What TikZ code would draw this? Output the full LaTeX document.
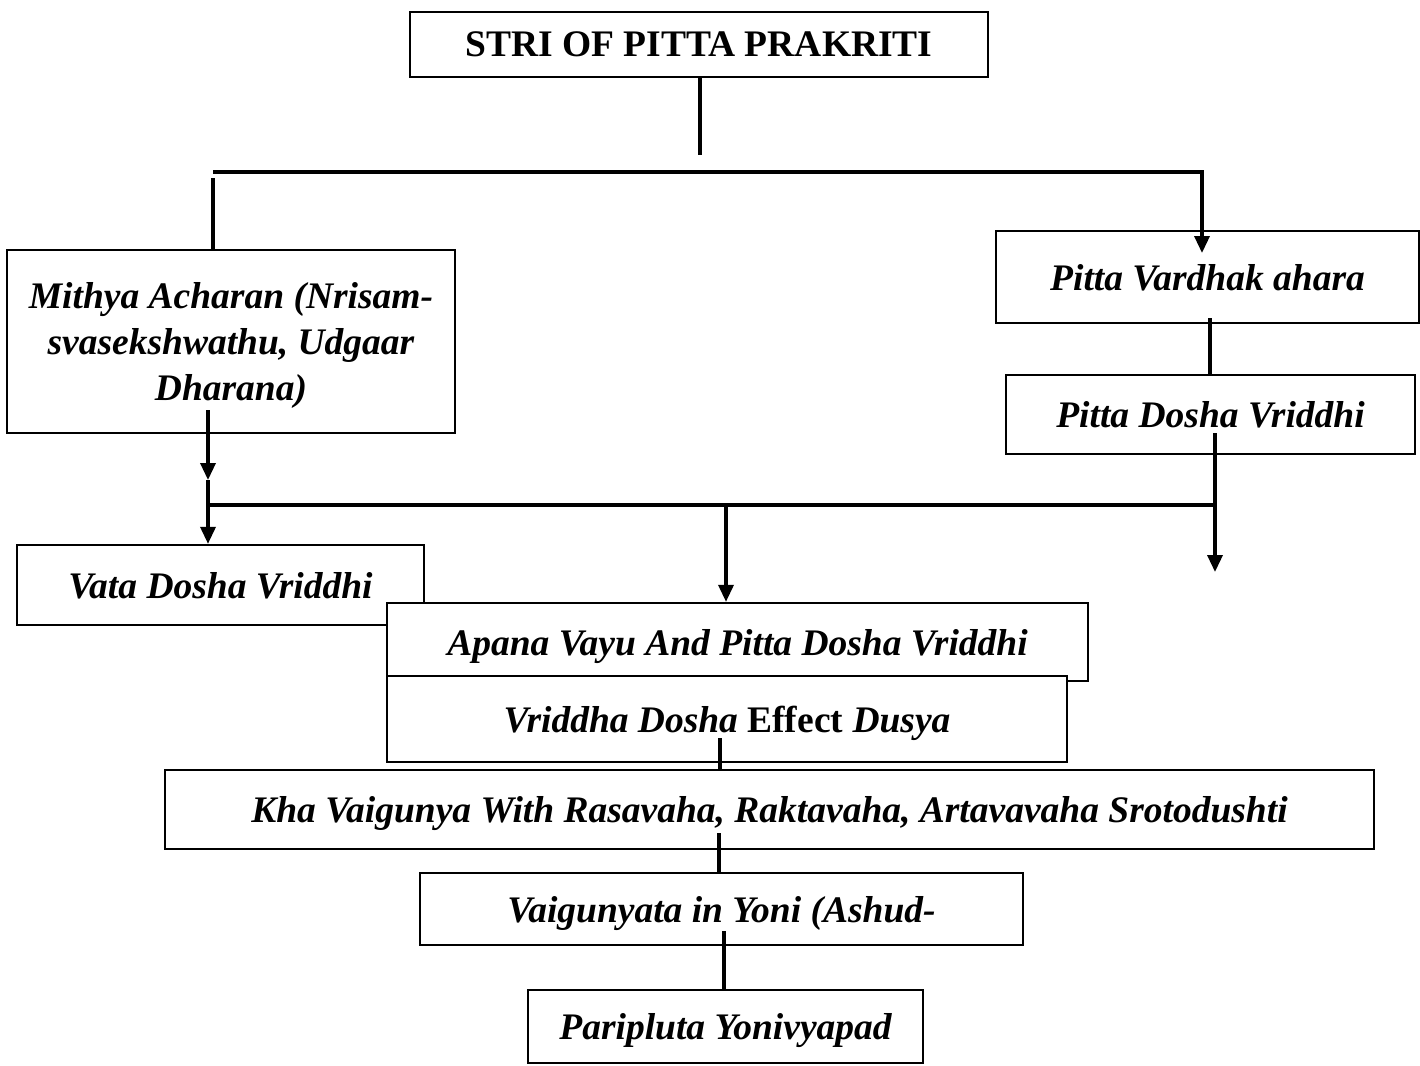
\documentclass[tikz,border=0pt]{standalone}
\usepackage{fontspec}
\setmainfont{Liberation Serif}
\usetikzlibrary{arrows.meta, positioning, calc}
\tikzset{
  box/.style={rectangle, draw, line width=2.3pt, fill=white, inner sep=0pt, align=center, text depth=0pt, font=\fontsize{37.5}{46}\selectfont\bfseries\itshape},
  titlebox/.style={box, font=\fontsize{37.5}{46}\selectfont\bfseries},
  link/.style={line width=3.4pt},
  flow/.style={link, -{Triangle[length=17pt, width=15pt]}},
}

\begin{document}
\begin{tikzpicture}[x=1pt, y=-1pt]
  \useasboundingbox (0,0) rectangle (1420,1065);

  % Boxes
  \node[titlebox, minimum width=578pt, minimum height=65pt] (stri) at (699,44.5) {STRI OF PITTA PRAKRITI};
  \node[box, minimum width=448pt, minimum height=183pt] (mithya) at (231,341.5) {Mithya Acharan (Nrisam-\\svasekshwathu, Udgaar\\Dharana)};
  \node[box, minimum width=423pt, minimum height=92pt] (pvardhak) at (1207.5,277) {Pitta Vardhak ahara};
  \node[box, minimum width=409pt, minimum height=79pt] (pdosha) at (1210.5,414.5) {Pitta Dosha Vriddhi};
  \node[box, minimum width=407pt, minimum height=80pt] (vata) at (220.5,585) {Vata Dosha Vriddhi};
  \node[box, minimum width=701pt, minimum height=78pt] (apana) at (737.5,642) {Apana Vayu And Pitta Dosha Vriddhi};
  \node[box, minimum width=680pt, minimum height=86pt] (vriddha) at (727,719) {Vriddha Dosha {\upshape Effect} Dusya};
  \node[box, minimum width=1209pt, minimum height=79pt] (kha) at (769.5,809.5) {Kha Vaigunya With Rasavaha, Raktavaha, Artavavaha Srotodushti};
  \node[box, minimum width=603pt, minimum height=72pt] (vaig) at (721.5,909) {Vaigunyata in Yoni (Ashud-};
  \node[box, minimum width=395pt, minimum height=73pt] (pari) at (725.5,1026.5) {Paripluta Yonivyapad};

  % Split from the title
  \coordinate (striEnd) at (700,155);
  \coordinate (splitL) at (213,172);
  \coordinate (splitR) at (1202,172);
  \coordinate (pvIn) at (1202,253);
  \draw[link] (stri.south -| striEnd) -- (striEnd);
  \draw[flow] (splitL) -- (splitR) -- (pvIn);
  \draw[link] ($(splitL)+(0,6)$) -- (splitL |- mithya.north);

  % Right branch
  \coordinate (pvOut) at (1210,318);
  \draw[link] (pvOut) -- (pvOut |- pdosha.north);
  \coordinate (pdOut) at (1215,433);
  \coordinate (pdEnd) at (1215,572);
  \draw[flow] (pdOut) -- (pdEnd);

  % Left branch
  \coordinate (miOut) at (208,410);
  \coordinate (miMid) at (208,480);
  \draw[flow] (miOut) -- (miMid);
  \draw[flow] (miMid) -- (miMid |- vata.north);

  % Joining bus
  \coordinate (busL) at (208,505);
  \coordinate (busR) at (1215,505);
  \coordinate (busM) at (726,505);
  \draw[link] (busL) -- (busR);
  \draw[flow] (busM) -- (busM |- apana.north);

  % Lower chain
  \coordinate (vrOut) at (720,738);
  \coordinate (khOut) at (719,833);
  \coordinate (vgOut) at (724,931);
  \draw[link] (vrOut) -- (vrOut |- kha.north);
  \draw[link] (khOut) -- (khOut |- vaig.north);
  \draw[link] (vgOut) -- (vgOut |- pari.north);
\end{tikzpicture}
\end{document}
